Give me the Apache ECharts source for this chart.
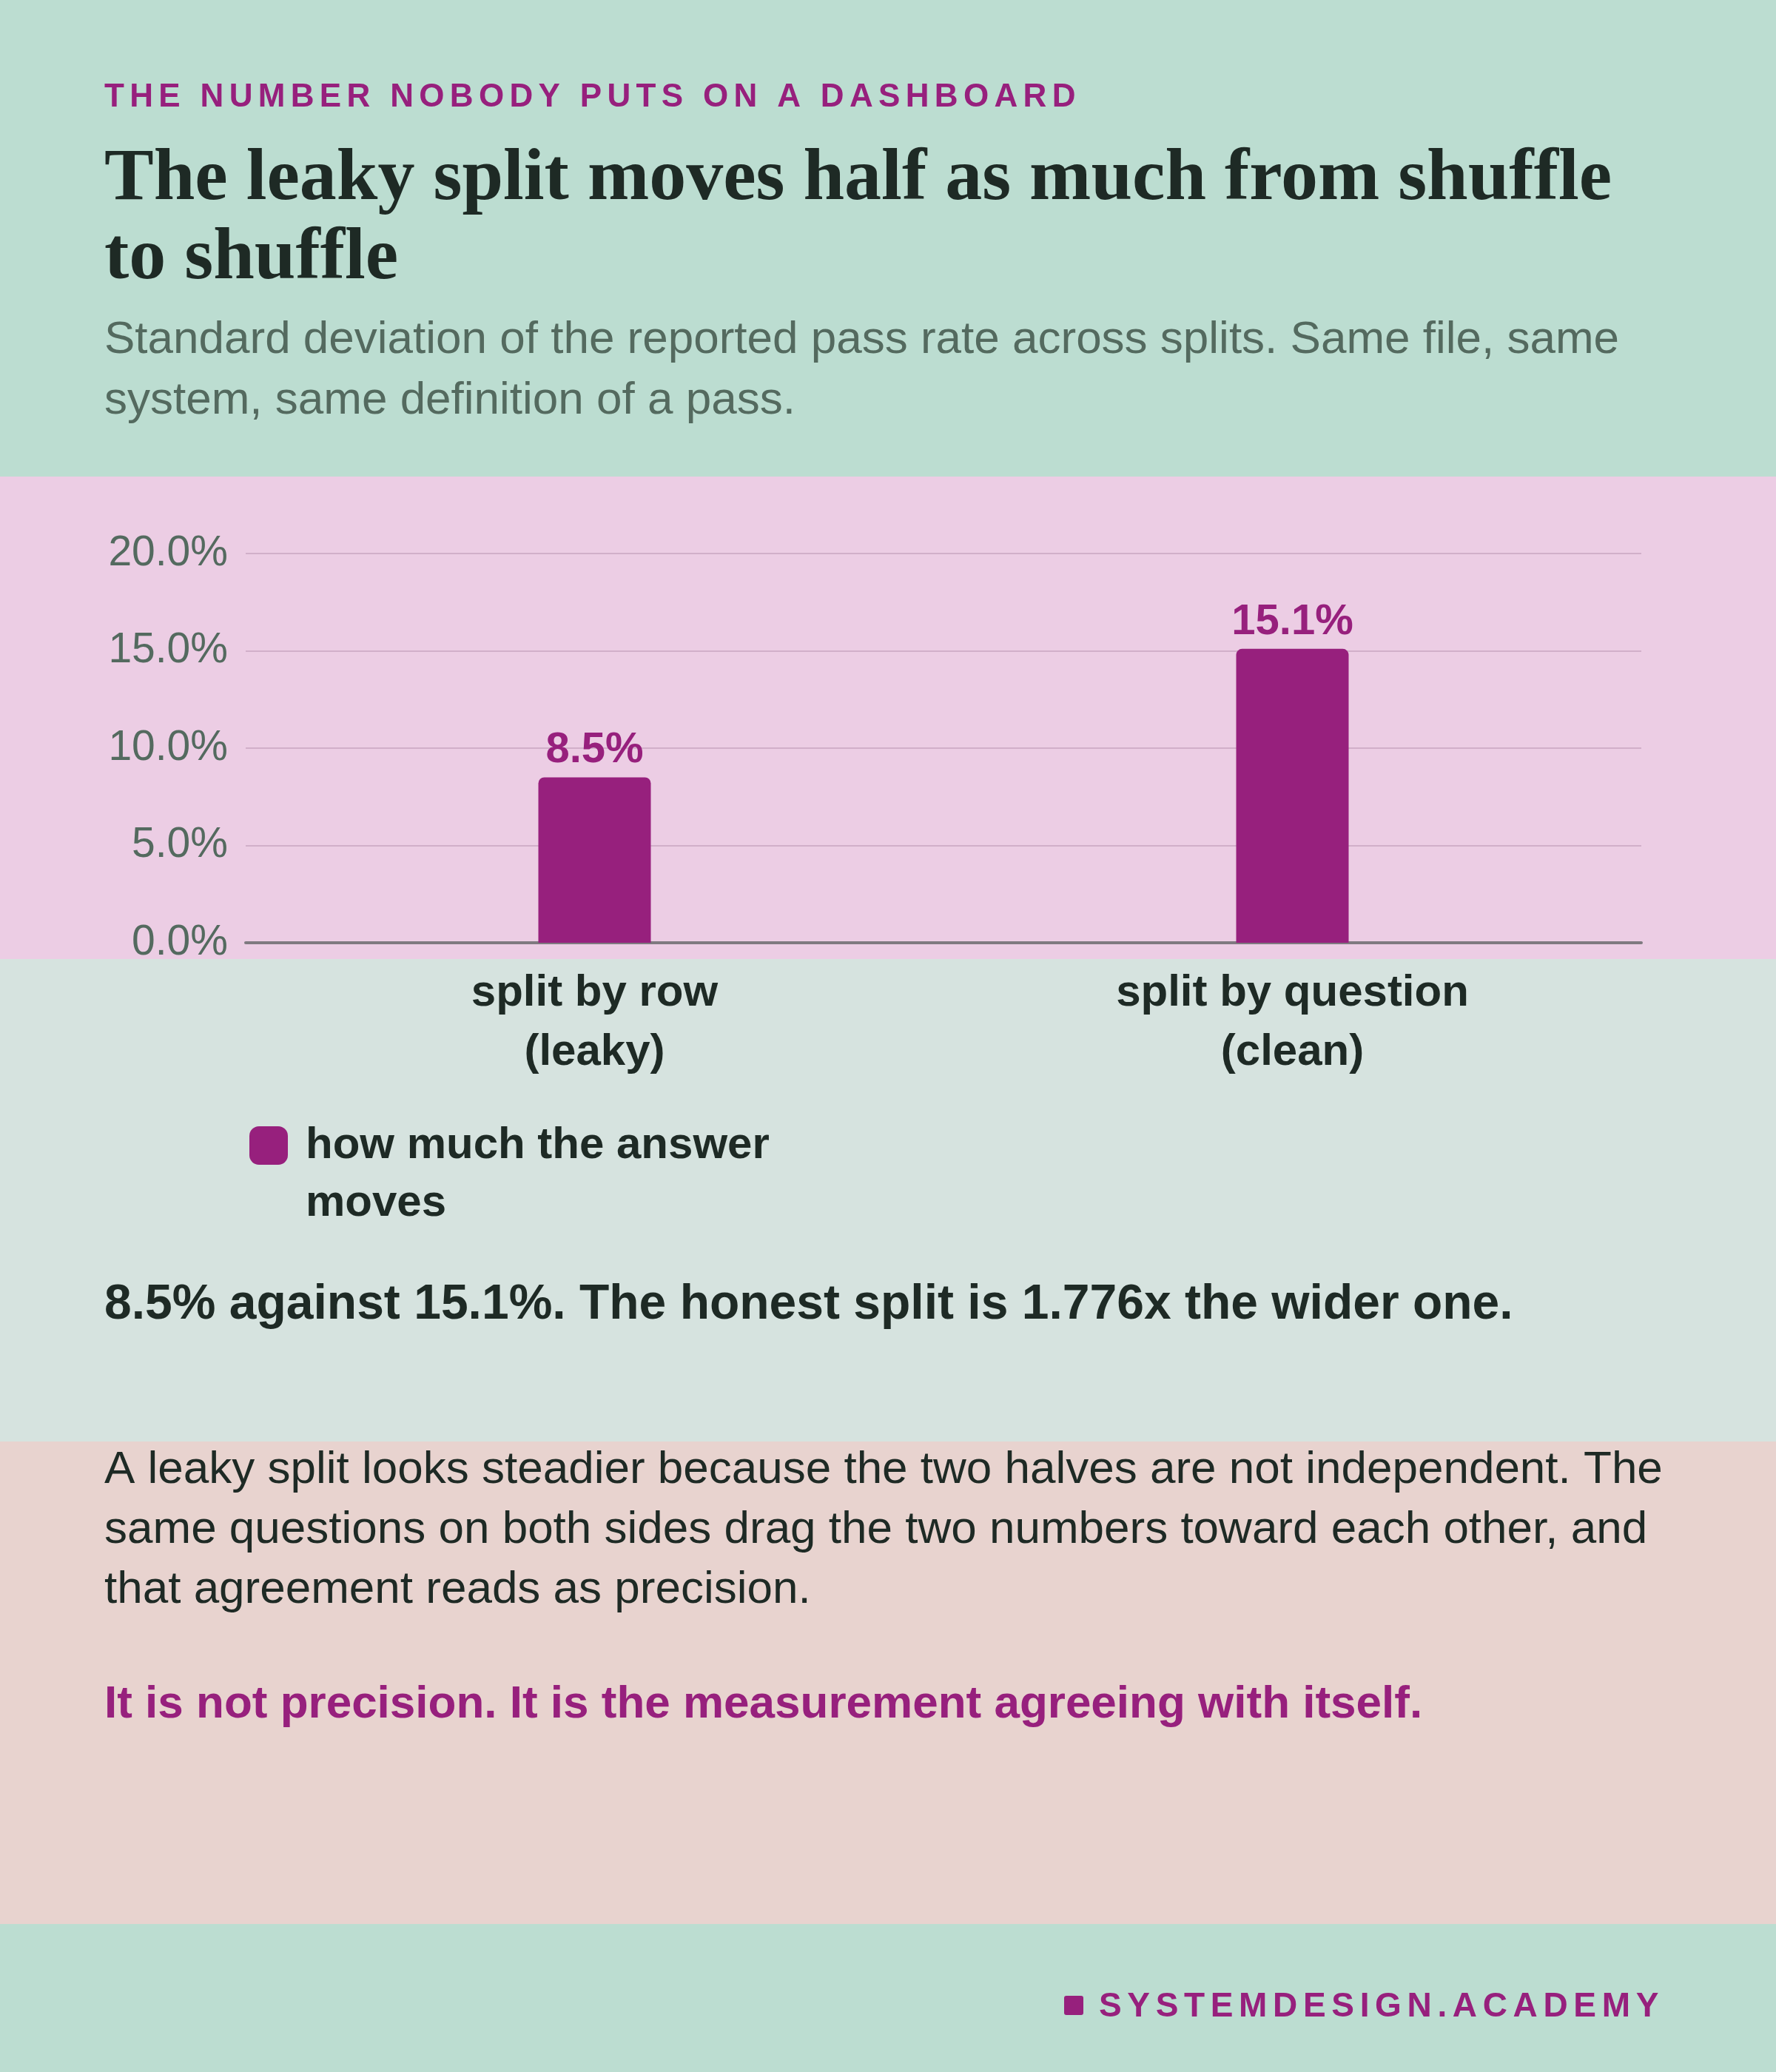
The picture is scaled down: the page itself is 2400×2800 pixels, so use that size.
<!DOCTYPE html>
<html>
<head>
<meta charset="utf-8">
<title>The leaky split moves half as much</title>
<script src="https://cdn.jsdelivr.net/npm/echarts@6/dist/echarts.min.js"></script>
<style>
  html, body { margin: 0; padding: 0; background: #BCDDD1; }
  #chart { width: 2400px; height: 2800px; }
</style>
</head>
<body>
<div id="chart"></div>
<script>
// data
var categories = ['split by row\n(leaky)', 'split by question\n(clean)'];
var spreadValues = [8.5, 15.1];
var seriesName = 'how much the answer moves';
var yMin = 0, yMax = 20, yStep = 5;

var SANS = '"Liberation Sans", Arial, Helvetica, sans-serif';
var SERIF = '"Liberation Serif", "Times New Roman", serif';
var PURPLE = '#97207D';
var DARK = '#1E2A25';
var MUTED = '#546A5F';

// fake letter-spacing with six-per-em spaces
function spaced(s) {
    return s.split('').join('\u2006');
}

function band(y, h, color) {
    return { type: 'rect', z: -100, silent: true, shape: { x: 0, y: y, width: 2400, height: h }, style: { fill: color } };
}

function txt(x, y, text, size, weight, color, lh, family) {
    return {
        type: 'text', z: 10, silent: true,
        style: {
            x: x, y: y, text: text, fill: color,
            font: weight + ' ' + size + 'px ' + (family || SANS),
            lineHeight: lh || size, verticalAlign: 'top', align: 'left'
        }
    };
}

var chart = echarts.init(document.getElementById('chart'));

var option = {
    animation: false,
    textStyle: { fontFamily: SANS },
    graphic: [
        band(0, 644, '#BCDDD1'),
        band(644, 652, '#ECCDE4'),
        band(1296, 652, '#D6E3DF'),
        band(1948, 652, '#E8D3CF'),
        band(2600, 200, '#BCDDD1'),

        txt(141, 132 - 22, spaced('THE NUMBER NOBODY PUTS ON A DASHBOARD'), 44, 'bold', PURPLE, 44),
        txt(141, 190, 'The leaky split moves half as much from shuffle\nto shuffle', 100, 'bold', DARK, 107, SERIF),
        txt(141, 419, 'Standard deviation of the reported pass rate across splits. Same file, same\nsystem, same definition of a pass.', 62, 'normal', MUTED, 82),

        txt(141, 1764 - 42, '8.5% against 15.1%. The honest split is 1.776x the wider one.', 66, 'bold', DARK, 84),
        txt(141, 1946, 'A leaky split looks steadier because the two halves are not independent. The\nsame questions on both sides drag the two numbers toward each other, and\nthat agreement reads as precision.', 62, 'normal', DARK, 81),
        txt(141, 2304 - 41, 'It is not precision. It is the measurement agreeing with itself.', 62, 'bold', PURPLE, 82),

        { type: 'rect', z: 10, silent: true, shape: { x: 1438, y: 2697, width: 26, height: 26, r: 3 }, style: { fill: PURPLE } },
        txt(1485, 2712 - 23, spaced('SYSTEMDESIGN.ACADEMY'), 46, 'bold', PURPLE, 46)
    ],
    grid: {
        left: 332,
        right: 182,
        top: 748,
        bottom: 1526,
        containLabel: false
    },
    legend: {
        left: 332,
        top: 1426,
        itemWidth: 52,
        itemHeight: 52,
        icon: 'roundRect',
        // blank first line keeps the icon level with the first text line
        formatter: function () {
            return '\nhow much the answer\nmoves';
        },
        textStyle: {
            fontSize: 60,
            fontWeight: 'bold',
            color: DARK,
            lineHeight: 78,
            padding: [0, 0, 0, 19]
        }
    },
    xAxis: {
        type: 'category',
        data: categories,
        axisLine: { lineStyle: { color: '#7F7A80', width: 4 } },
        axisTick: { show: false },
        axisLabel: {
            margin: 28,
            fontSize: 60,
            fontWeight: 'bold',
            color: DARK,
            lineHeight: 80
        }
    },
    yAxis: {
        type: 'value',
        min: yMin,
        max: yMax,
        interval: yStep,
        axisLine: { show: false },
        axisTick: { show: false },
        splitLine: { lineStyle: { color: '#D1AFC9', width: 2 } },
        axisLabel: {
            margin: 24,
            fontSize: 57,
            color: MUTED,
            formatter: function (v) { return v.toFixed(1) + '%'; }
        }
    },
    series: [{
        name: seriesName,
        type: 'bar',
        data: spreadValues,
        barWidth: 152,
        itemStyle: { color: PURPLE, borderRadius: [8, 8, 0, 0] },
        label: {
            show: true,
            position: 'top',
            distance: 7,
            fontSize: 58,
            fontWeight: 'bold',
            color: PURPLE,
            formatter: function (p) { return p.value.toFixed(1) + '%'; }
        }
    }]
};

chart.setOption(option);
</script>
</body>
</html>
